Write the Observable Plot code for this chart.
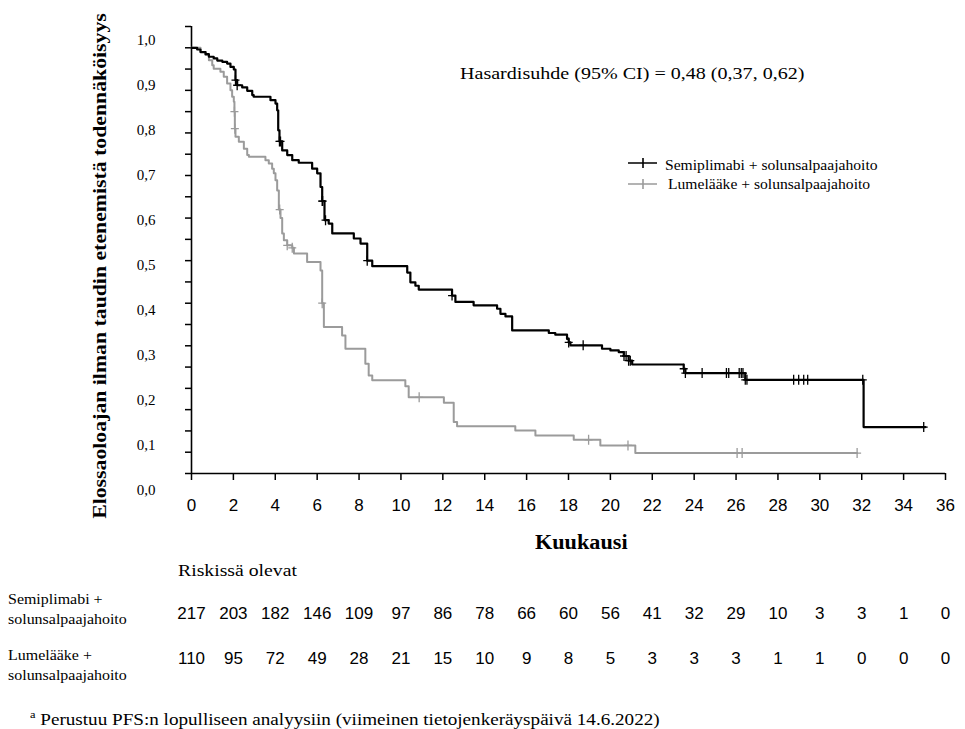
<!DOCTYPE html>
<html><head><meta charset="utf-8">
<script src="https://cdn.jsdelivr.net/npm/d3@7"></script>
<script src="https://cdn.jsdelivr.net/npm/@observablehq/plot@0.6"></script>
<style>
body{margin:0;background:#fff;}
#wrap{position:relative;width:965px;height:729px;background:#fff;overflow:hidden;font-family:"Liberation Serif","Times New Roman",serif;color:#000;}
#wrap svg{position:absolute;left:0;}
.abs{position:absolute;white-space:nowrap;line-height:1;transform-origin:0 50%;}
</style></head><body><div id="wrap"></div>
<script>
// ---- data ----
const semiTime = [0, 0.27, 0.43, 0.67, 0.83, 1.06, 1.23, 1.47, 1.70, 1.86, 2.02, 2.10, 2.18, 2.42, 2.66, 2.90, 2.97, 3.77, 4.01, 4.09, 4.14, 4.20, 4.33, 4.57, 4.81, 5.12, 5.76, 6.00, 6.16, 6.24, 6.35, 6.55, 6.72, 7.75, 8.07, 8.39, 8.63, 10.30, 10.45, 10.69, 10.85, 12.44, 12.60, 13.47, 14.59, 14.75, 14.99, 15.31, 17.06, 17.37, 17.93, 18.01, 18.09, 19.60, 20.00, 20.40, 20.64, 20.87, 21.04, 23.50, 23.58, 26.44, 32.09, 35.04];
const semiSurv = [1.0, 0.996, 0.99, 0.985, 0.979, 0.975, 0.97, 0.967, 0.963, 0.955, 0.949, 0.924, 0.912, 0.907, 0.899, 0.889, 0.885, 0.877, 0.869, 0.853, 0.806, 0.78, 0.759, 0.748, 0.736, 0.73, 0.716, 0.705, 0.673, 0.64, 0.595, 0.587, 0.564, 0.552, 0.54, 0.5, 0.487, 0.472, 0.449, 0.441, 0.432, 0.418, 0.403, 0.395, 0.387, 0.375, 0.369, 0.336, 0.33, 0.326, 0.316, 0.308, 0.301, 0.293, 0.289, 0.285, 0.276, 0.265, 0.256, 0.246, 0.236, 0.22, 0.109, 0.109];
const semiCensor = [2.10, 2.18, 4.20, 4.25, 6.24, 6.26, 6.40, 8.39, 12.44, 18.01, 18.70, 20.65, 20.75, 20.87, 20.95, 23.50, 23.58, 24.38, 25.54, 25.65, 26.15, 26.25, 26.33, 26.44, 26.52, 28.75, 28.99, 29.23, 29.42, 32.05, 34.96];

const lumeTime = [0, 0.43, 0.67, 0.83, 0.99, 1.06, 1.38, 1.54, 1.70, 1.86, 1.94, 2.02, 2.05, 2.07, 2.10, 2.26, 2.50, 2.66, 2.74, 3.53, 3.69, 3.85, 3.93, 4.01, 4.09, 4.17, 4.25, 4.33, 4.41, 4.57, 4.81, 4.89, 5.52, 6.16, 6.24, 6.32, 7.19, 7.35, 8.30, 8.46, 8.63, 10.21, 10.37, 12.05, 12.52, 12.68, 15.46, 16.42, 18.25, 19.52, 21.19, 31.78];
const lumeSurv = [1.0, 0.99, 0.983, 0.971, 0.959, 0.951, 0.944, 0.932, 0.916, 0.90, 0.885, 0.873, 0.85, 0.81, 0.791, 0.779, 0.763, 0.748, 0.744, 0.736, 0.728, 0.716, 0.705, 0.689, 0.665, 0.62, 0.60, 0.564, 0.548, 0.536, 0.53, 0.517, 0.497, 0.477, 0.40, 0.344, 0.324, 0.293, 0.258, 0.23, 0.219, 0.205, 0.179, 0.166, 0.121, 0.111, 0.101, 0.089, 0.079, 0.066, 0.048, 0.048];
const lumeCensor = [2.05, 2.07, 4.21, 4.57, 4.81, 6.24, 10.87, 18.96, 20.84, 26.05, 26.29, 31.78];

const riskTimes = [0, 2, 4, 6, 8, 10, 12, 14, 16, 18, 20, 22, 24, 26, 28, 30, 32, 34, 36];
const riskSemi = [217, 203, 182, 146, 109, 97, 86, 78, 66, 60, 56, 41, 32, 29, 10, 3, 3, 1, 0];
const riskLume = [110, 95, 72, 49, 28, 21, 15, 10, 9, 8, 5, 3, 3, 3, 1, 1, 0, 0, 0];

const xTicks = [0, 2, 4, 6, 8, 10, 12, 14, 16, 18, 20, 22, 24, 26, 28, 30, 32, 34, 36];
const yMinorTicks = [0, 0.05, 0.1, 0.15, 0.2, 0.25, 0.3, 0.35, 0.4, 0.45, 0.5, 0.55, 0.6, 0.65, 0.7, 0.75, 0.8, 0.85, 0.9, 0.95, 1.0, 1.05];
const yLabelTicks = [0, 0.1, 0.2, 0.3, 0.4, 0.5, 0.6, 0.7, 0.8, 0.9, 1.0];

const SEMI = "Semiplimabi + solunsalpaajahoito";
const LUME = "Lumelääke + solunsalpaajahoito";

// ---- derived tables ----
const semiPts = semiTime.map((t, i) => ({t, s: semiSurv[i]}));
const lumePts = lumeTime.map((t, i) => ({t, s: lumeSurv[i]}));
function survAt(times, surv, t) { let s = surv[0]; for (let i = 0; i < times.length; i++) if (times[i] <= t + 1e-9) s = surv[i]; return s; }
const semiCens = semiCensor.map(t => ({t, s: survAt(semiTime, semiSurv, t)}));
const lumeCens = lumeCensor.map(t => ({t, s: survAt(lumeTime, lumeSurv, t)}));
const riskRows = [];
riskTimes.forEach((t, i) => { riskRows.push({t, g: "semi", n: riskSemi[i]}); riskRows.push({t, g: "lume", n: riskLume[i]}); });

const crossSym = { draw(ctx, size) { const r = Math.sqrt(size / Math.PI); ctx.moveTo(0, -r); ctx.lineTo(0, r); ctx.moveTo(-r * 0.8, 0); ctx.lineTo(r * 0.8, 0); } };

const wrap = document.getElementById("wrap");

const main = Plot.plot({
  width: 965, height: 530,
  marginLeft: 191, marginRight: 20, marginTop: 26, marginBottom: 57,
  x: {domain: [0, 36]},
  y: {domain: [0, 1.05]},
  style: {background: "transparent", fontFamily: "'Liberation Sans', Arial, sans-serif", fontSize: "17px", color: "#000"},
  marks: [
    Plot.axisX({ticks: xTicks, tickSize: 7, tickPadding: 18, label: null, strokeWidth: 1.5}),
    Plot.axisY({ticks: yMinorTicks, tickSize: 6, tickFormat: () => "", label: null, strokeWidth: 1.5}),
    Plot.ruleX([0], {y1: 0, y2: 1.05, stroke: "#000", strokeWidth: 1.6}),
    Plot.ruleY([0], {x1: 0, x2: 36, stroke: "#000", strokeWidth: 1.6}),
    Plot.line(lumePts, {x: "t", y: "s", curve: "step-after", stroke: "#9b9b9b", strokeWidth: 2}),
    Plot.line(semiPts, {x: "t", y: "s", curve: "step-after", stroke: "#000", strokeWidth: 2.2}),
    Plot.dot(lumeCens, {x: "t", y: "s", symbol: crossSym, r: 5, stroke: "#9b9b9b", strokeWidth: 1.3, fill: "none"}),
    Plot.dot(semiCens, {x: "t", y: "s", symbol: crossSym, r: 5, stroke: "#000", strokeWidth: 1.3, fill: "none"})
  ]
});
main.style.top = "0px";
wrap.appendChild(main);

// y tick labels (placed as in the reference)
const labels = Plot.plot({
  width: 965, height: 530,
  marginLeft: 157, marginRight: 20, marginTop: 40, marginBottom: 40,
  x: {domain: [0, 36], axis: null},
  y: {domain: [0, 1]},
  style: {background: "transparent", fontFamily: "'Liberation Serif', 'Times New Roman', serif", fontSize: "15px", color: "#000"},
  marks: [
    Plot.axisY({ticks: yLabelTicks, tickSize: 0, tickPadding: 2, tickFormat: d => d.toFixed(1).replace(".", ","), label: null})
  ]
});
labels.style.top = "0px";
labels.style.pointerEvents = "none";
wrap.appendChild(labels);

// number at risk table
const risk = Plot.plot({
  width: 965, height: 90,
  marginLeft: 191, marginRight: 20, marginTop: 23, marginBottom: 22,
  x: {domain: [0, 36], axis: null},
  y: {type: "point", domain: ["semi", "lume"], padding: 0, axis: null},
  style: {background: "transparent", fontFamily: "'Liberation Sans', Arial, sans-serif", color: "#000"},
  marks: [
    Plot.text(riskRows, {x: "t", y: "g", text: "n", fontSize: 17, fill: "#000"})
  ]
});
risk.style.top = "590px";
wrap.appendChild(risk);

function addText(html, left, top, css, sx) {
  const d = document.createElement("div");
  d.className = "abs";
  d.innerHTML = html;
  d.style.left = left + "px";
  d.style.top = top + "px";
  Object.assign(d.style, css || {});
  if (sx) d.style.transform = `scaleX(${sx})`;
  wrap.appendChild(d);
  return d;
}
addText("Hasardisuhde (95% CI) = 0,48 (0,37, 0,62)", 460, 65, {fontSize: "17px"}, 1.18);
addText(SEMI, 665, 159, {fontSize: "14px"}, 1.115);
addText(LUME, 668, 178, {fontSize: "14px"}, 1.115);
addText("Kuukausi", 535, 532, {fontSize: "20px", fontWeight: "bold"}, 1.11);
addText("Elossaoloajan ilman taudin etenemistä todennäköisyys", 100 - 300, 266 - 11, {fontSize: "19px", fontWeight: "bold", width: "600px", textAlign: "center", lineHeight: "22px", transform: "rotate(-90deg) scaleX(1.146)", transformOrigin: "50% 50%"});
addText("Riskissä olevat", 178, 562, {fontSize: "17px"}, 1.16);
addText("Semiplimabi +", 8, 593, {fontSize: "14px"}, 1.14);
addText("solunsalpaajahoito", 8, 613, {fontSize: "14px"}, 1.14);
addText("Lumelääke +", 8, 649, {fontSize: "14px"}, 1.14);
addText("solunsalpaajahoito", 8, 669, {fontSize: "14px"}, 1.14);
addText("<sup style='font-size:11px'>a</sup> Perustuu PFS:n lopulliseen analyysiin (viimeinen tietojenkeräyspäivä 14.6.2022)", 30, 709, {fontSize: "17px"}, 1.125);

// legend swatches
const ns = "http://www.w3.org/2000/svg";
const leg = document.createElementNS(ns, "svg");
leg.setAttribute("width", "45"); leg.setAttribute("height", "45");
leg.style.position = "absolute"; leg.style.left = "620px"; leg.style.top = "150px";
[[13, "#000"], [34, "#9b9b9b"]].forEach(([y, c]) => {
  const p = document.createElementNS(ns, "path");
  p.setAttribute("d", `M8,${y}H37M23,${y - 5}V${y + 5}`);
  p.setAttribute("stroke", c); p.setAttribute("stroke-width", "1.6"); p.setAttribute("fill", "none");
  leg.appendChild(p);
});
wrap.appendChild(leg);
</script></body></html>
